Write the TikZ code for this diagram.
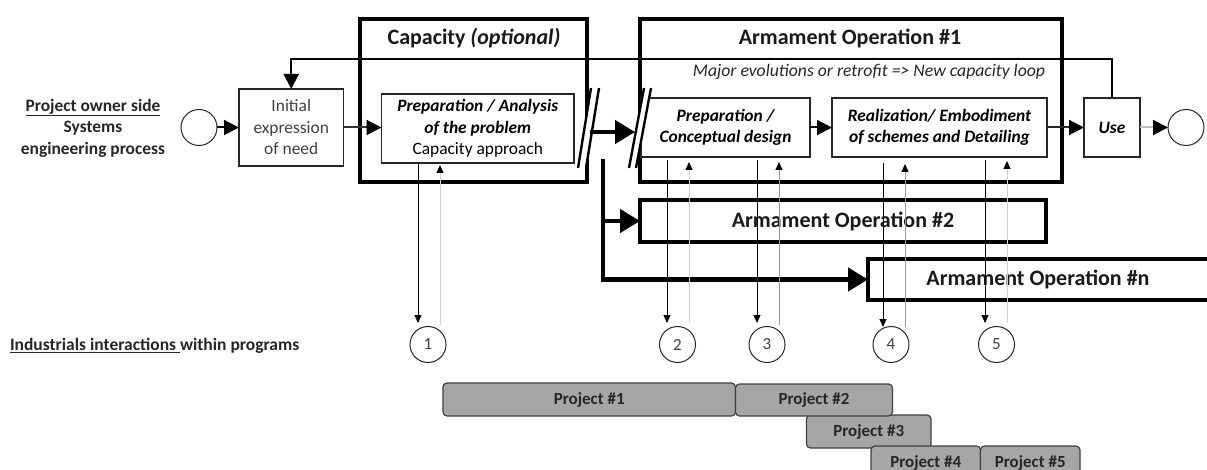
\documentclass[tikz,border=0pt]{standalone}
\usepackage{fontspec}
\setmainfont{Carlito}
\usetikzlibrary{arrows.meta}
\definecolor{lightln}{HTML}{D0D0D0}
\definecolor{midln}{HTML}{999999}
\definecolor{projfill}{HTML}{A6A6A6}
\definecolor{projedge}{HTML}{404040}
\tikzset{
  x=1pt,y=-1pt,
  pxbox/.style={draw=black,fill=white,inner sep=0pt,outer sep=0pt,align=center},
  thinbox/.style={pxbox,draw=black!85,line width=1.1pt,font=\fontsize{17.4}{21.5}\selectfont},
  heavybox/.style={draw=black,line width=4pt,inner sep=0pt,outer sep=0pt,align=center},
  titletext/.style={font=\fontsize{22}{24}\selectfont\bfseries,text=black!90},
  projbox/.style={draw=projedge,fill=projfill,line width=1.2pt,rounded corners=4pt,inner sep=0pt,outer sep=0pt,
    font=\fontsize{17}{19}\selectfont\bfseries,text=black!85},
  ringnode/.style={circle,draw=black!85,fill=white,line width=1pt,minimum size=36pt,inner sep=0pt,outer sep=0pt},
  numnode/.style={circle,draw=black!85,fill=white,line width=1pt,minimum size=36pt,inner sep=0pt,outer sep=0pt,
    font=\fontsize{17}{19}\selectfont,text=black!75},
  plainlabel/.style={inner sep=0pt,outer sep=0pt,align=center},
  medarrow/.style={line width=2pt,-{Triangle[length=15pt,width=15pt,black]}},
  heavyarrow/.style={line width=4.5pt,-{Triangle[length=20pt,width=23pt]}},
  thinarrow/.style={line width=1pt,black,-{Triangle[length=8pt,width=7pt]}},
  ghostarrow/.style={line width=1pt,{Triangle[length=8pt,width=7pt,black]}-},
  slashline/.style={line width=2.4pt,black},
}
\newcommand{\bx}[7]{%
  \pgfmathsetmacro{\bxw}{#4-#2}\pgfmathsetmacro{\bxh}{#5-#3}%
  \pgfmathsetmacro{\bxx}{(#2+#4)/2}\pgfmathsetmacro{\bxy}{(#3+#5)/2}%
  \node[#6,minimum width=\bxw pt,minimum height=\bxh pt] (#1) at (\bxx,\bxy) {#7};}
\begin{document}
\begin{tikzpicture}
\clip (0,0) rectangle (1207,470);
% heavy frames
\bx{capframe}{360}{19.5}{587}{182.5}{heavybox}{}
\bx{aoone}{640}{19.5}{1062}{182.5}{heavybox}{}
\bx{aotwo}{640}{200}{1046}{242}{heavybox,fill=white,titletext}{Armament Operation \#2}
\bx{aon}{868}{259}{1214}{300}{heavybox,fill=white,titletext}{\hspace*{-6pt}Armament Operation \#n}
\node[plainlabel,titletext] (captitle) at (474,38) {Capacity \textit{(optional)}};
\node[plainlabel,titletext] (aotitle) at (850,38) {Armament Operation \#1};
\node[plainlabel,font=\fontsize{17.7}{20}\selectfont\itshape,text=black!85] (loopnote) at (869,72) {Major evolutions or retrofit => New capacity loop};
% side labels
\node[plainlabel,font=\fontsize{17.4}{21.5}\selectfont\bfseries,text=black!85] (owner) at (93,128)
  {\underline{Project owner side}\\Systems\\engineering process};
\node[plainlabel,anchor=west,font=\fontsize{17.5}{20}\selectfont\bfseries,text=black!85] (indus) at (10,346)
  {\underline{Industrials interactions }within programs};
% process boxes
\bx{need}{239}{89}{343.5}{166}{thinbox,text=black!75}{Initial\\expression\\of need}
\bx{prepa}{381.5}{94}{574}{163}{thinbox}{\textbf{\textit{Preparation / Analysis}}\\\textbf{\textit{of the problem}}\\Capacity approach}
\bx{prepb}{641}{98}{810}{157}{thinbox,font=\fontsize{17.4}{21.5}\selectfont\bfseries\itshape}{Preparation /\\Conceptual design}
\bx{real}{832}{98}{1047}{157}{thinbox,font=\fontsize{17.4}{21.5}\selectfont\bfseries\itshape}{Realization/ Embodiment\\of schemes and Detailing}
\bx{use}{1084}{98}{1140}{157}{thinbox,font=\fontsize{17.4}{21.5}\selectfont\bfseries\itshape}{Use}
\node[ringnode] (start) at (199,127.5) {};
\node[ringnode] (finish) at (1186,127.5) {};
% numbered circles
\node[numnode] (n1) at (428,344.5) {1};
\node[numnode] (n2) at (677.5,344.5) {2};
\node[numnode] (n3) at (767,344.5) {3};
\node[numnode] (n4) at (891,344.5) {4};
\node[numnode] (n5) at (996.5,344.5) {5};
% flow arrows
\draw[medarrow] (start.east) -- (need.west |- start.east);
\draw[medarrow,draw=black!80] (need.east |- start.east) -- (prepa.west |- start.east);
\draw[medarrow] (prepb.east) -- (real.west);
\draw[medarrow,draw=black!85] (real.east) -- (use.west);
\draw[medarrow,draw=black!25] (use.east) -- (finish.west);
% loop back
\coordinate (looptop) at (1112,59.5);
\draw[medarrow] (use.north) -- (looptop) -- (looptop -| need.north) -- (need.north);
% slashes (cut in the two frames)
\coordinate (sa) at (578,168); \coordinate (sb) at (591,88);
\coordinate (sc) at (599,88);  \coordinate (sd) at (586,168);
\fill[white] (sa) -- (sb) -- (sc) -- (sd) -- cycle;
\draw[slashline] (sa) -- (sb) (sd) -- (sc);
\coordinate (ta) at (629,168); \coordinate (tb) at (644,88);
\coordinate (tc) at (651,88);  \coordinate (td) at (636,168);
\fill[white] (ta) -- (tb) -- (tc) -- (td) -- cycle;
\draw[slashline] (ta) -- (tb) (td) -- (tc);
% main heavy arrows
\coordinate (mainfrom) at (590,132);
\coordinate (mainto) at (635,132);
\draw[heavyarrow] (mainfrom) -- (mainto);
\coordinate (trunk) at (603,159);
\draw[heavyarrow] (trunk) -- (trunk |- aotwo.west) -- (aotwo.west);
\draw[heavyarrow] (trunk) -- (trunk |- aon.west) -- (aon.west);
% interaction arrows
\coordinate (d1) at (418,323); \coordinate (u1) at (440,325);
\coordinate (d2) at (667,323); \coordinate (u2) at (689,323);
\coordinate (d3) at (757,323); \coordinate (u3) at (779,325);
\coordinate (d4) at (883,327); \coordinate (u4) at (905,327);
\coordinate (d5) at (985,323); \coordinate (u5) at (1007,323);
\draw[thinarrow] (prepa.south -| d1) -- (d1);
\draw[ghostarrow,draw=lightln] (prepa.south -| u1) ++(0,2) -- (u1);
\draw[thinarrow] (prepb.south -| d2) ++(0,3) -- (d2);
\draw[ghostarrow,draw=lightln] (prepb.south -| u2) ++(0,5) -- (u2);
\draw[thinarrow] (prepb.south -| d3) ++(0,3) -- (d3);
\draw[ghostarrow,draw=midln] (prepb.south -| u3) ++(0,5) -- (u3);
\draw[thinarrow] (real.south -| d4) ++(0,6) -- (d4);
\draw[ghostarrow,draw=midln] (real.south -| u4) ++(0,7) -- (u4);
\draw[thinarrow] (real.south -| d5) ++(0,3) -- (d5);
\draw[ghostarrow,draw=lightln] (real.south -| u5) ++(0,4) -- (u5);
% projects
\bx{p3}{806.5}{415}{931}{448}{projbox}{Project \#3}
\bx{p1}{443}{383}{735.5}{416}{projbox}{Project \#1}
\bx{p2}{735.5}{384}{892.5}{416}{projbox}{Project \#2}
\bx{p4}{871}{446}{980.5}{480}{projbox}{Project \#4}
\bx{p5}{980.5}{446}{1080}{480}{projbox}{Project \#5}
\end{tikzpicture}
\end{document}
